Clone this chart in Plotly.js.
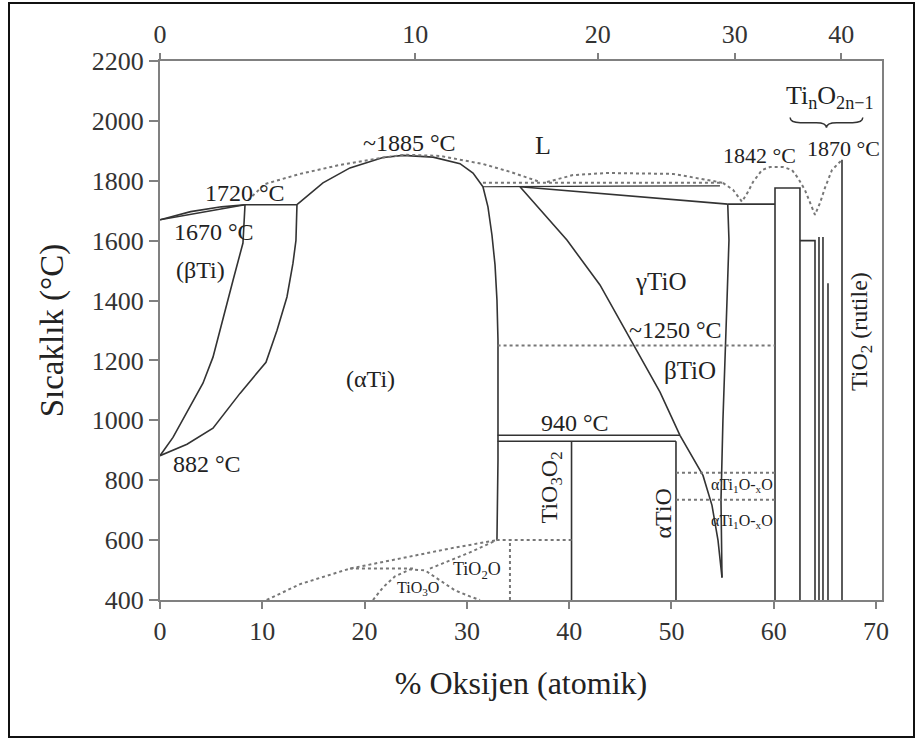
<!DOCTYPE html>
<html><head><meta charset="utf-8">
<script src="https://cdn.plot.ly/plotly-3.0.1.min.js"></script>
<style>
html,body{margin:0;padding:0;background:#fff;}
#wrap{position:relative;width:924px;height:740px;}
#chart{width:924px;height:740px;}
#frame{position:absolute;left:8px;top:2px;width:903px;height:732px;border:2px solid #111;pointer-events:none;}
</style>
</head><body>
<div id="wrap"><div id="chart"></div><div id="frame"></div></div>
<script>
// ---- data: x = atomic % O, T = temperature (°C) ----
const xTicks = [0, 10, 20, 30, 40, 50, 60, 70];
const yTicks = [400, 600, 800, 1000, 1200, 1400, 1600, 1800, 2000, 2200];
const wtTicks = [0, 10, 20, 30, 40];           // top axis, weight % O

const betaLiqX = [0, 3, 6, 8.3];
const betaLiqT = [1670, 1697, 1713, 1720];
const betaSolX = [0, 8.3];
const betaSolT = [1670, 1720];
const betaTransusX = [8.31, 8.11, 7.14, 6.16, 5.18, 4.20, 2.93, 1.27, 0];
const betaTransusT = [1720, 1592, 1468, 1335, 1211, 1124, 1044, 943, 882];
const alphaTransusX = [13.39, 13.29, 13.0, 12.41, 11.44, 10.36, 7.82, 5.18, 2.64, 0];
const alphaTransusT = [1720, 1601, 1525, 1412, 1301, 1194, 1090, 974, 920, 882];
const peri1720X = [8.31, 13.39];
const peri1720T = [1720, 1720];
const alphaSolidusX = [13.39, 15.93, 18.57, 21.80, 23.75, 26.69, 29.33, 30.60, 31.57];
const alphaSolidusT = [1720, 1793, 1843, 1878, 1885, 1879, 1857, 1826, 1780];
const alphaLiquidusX = [8.6, 10.26, 13.69, 17.60, 21.51, 23.95, 27.37, 31.57, 34.21, 37.15];
const alphaLiquidusT = [1735, 1789, 1823, 1853, 1876, 1887, 1883, 1856, 1830, 1796];
const alphaBoundX = [31.57, 32.06, 32.45, 32.75, 32.94, 33.04, 33.04, 33.04, 32.94];
const alphaBoundT = [1780, 1713, 1619, 1519, 1402, 1268, 1067, 866, 600];
const peri1780X = [31.57, 35.19, 45.0, 54.74];
const peri1780T = [1780, 1780, 1782, 1783];
const gammaSolidusX = [35.19, 55.5];
const gammaSolidusT = [1780, 1722];
const gammaLeftX = [35.19, 39.78, 43.01, 46.24, 48.88, 50.83, 53.08, 53.96, 54.55, 54.94];
const gammaLeftT = [1780, 1602, 1452, 1257, 1094, 950, 816, 716, 599, 475];
const gammaRightX = [55.5, 55.62, 55.43, 55.23, 55.03, 54.84, 54.94];
const gammaRightT = [1722, 1602, 1402, 1201, 1000, 733, 475];
const eut1720X = [55.5, 60.12];
const eut1720T = [1722, 1722];
const line950X = [33.0, 50.83];
const line950T = [950, 950];
const line930X = [33.0, 50.44];
const line930T = [930, 930];
const ti3o2X = [40.23, 40.23];
const ti3o2T = [400, 930];
const alphaTiOX = [50.44, 50.44];
const alphaTiOT = [400, 930];
const ti2o3X = [60.12, 60.12, 62.56, 62.56];
const ti2o3T = [400, 1776, 1776, 400];
const ti3o5X = [62.56, 64.03, 64.03];
const ti3o5T = [1600, 1600, 400];
const magneliX = [64.42, 64.81, 65.30];
const magneliTop = [1612, 1612, 1458];
const rutileX = [66.67, 66.67];
const rutileT = [400, 1870];

// dotted lines
const dot1250X = [33.0, 60.12];
const dot1250T = [1250, 1250];
const dot825X = [50.44, 60.12];
const dot825T = [825, 825];
const dot735X = [50.44, 60.12];
const dot735T = [735, 735];
const dot1793X = [31.57, 55.03];
const dot1793T = [1793, 1793];
const arcX = [37.83, 40.37, 43.70, 50.15, 53.47, 55.03];
const arcT = [1796, 1819, 1826, 1823, 1803, 1793];
const liqRightX = [55.03, 56.01, 56.89, 57.48, 57.97, 58.85, 59.63, 60.90, 61.78, 62.37, 63.05, 63.54, 64.03, 64.52, 65.00, 65.69, 66.28, 66.67];
const liqRightT = [1793, 1770, 1730, 1763, 1796, 1836, 1846, 1846, 1836, 1809, 1769, 1726, 1686, 1726, 1776, 1836, 1855, 1870];
const orderX = [10.43, 13.69, 18.57, 23.46, 28.35, 32.91];
const orderT = [400, 453, 505, 538, 572, 600];
const dot505X = [18.57, 24.8];
const dot505T = [505, 505];
const ti3oX = [20.82, 21.80, 22.97, 24.44, 25.90, 27.37, 28.84, 30.30, 31.28];
const ti3oT = [400, 442, 479, 502, 499, 465, 432, 412, 400];
const ti2oX = [26.39, 28.35, 30.30, 32.91];
const ti2oT = [505, 532, 559, 600];
const dot600X = [32.91, 40.23];
const dot600T = [600, 600];
const ti2oVX = [34.21, 34.21];
const ti2oVT = [400, 600];

// brace over the Magneli phases
const braceX = [61.6, 68.7];
const braceT = [2011, 1977];

// labels: [text, x, T, size, angle]
const labels = [
  ['~1885 °C', 24.4, 1927, 24, 0],
  ['L', 37.44, 1917, 26, 0],
  ['1720 °C', 8.31, 1760, 24, 0],
  ['1670 °C', 5.28, 1629, 24, 0],
  ['(βTi)', 3.91, 1502, 24, 0],
  ['(αTi)', 20.53, 1137, 24, 0],
  ['882 °C', 4.59, 853, 24, 0],
  ['1842 °C', 58.65, 1883, 22, 0],
  ['1870 °C', 66.86, 1907, 22, 0],
  ['Ti<sub>n</sub>O<sub>2n−1</sub>', 65.49, 2080, 26, 0],
  ['γTiO', 48.88, 1465, 25, 0],
  ['~1250 °C', 50.44, 1301, 24, 0],
  ['βTiO', 51.81, 1167, 25, 0],
  ['940 °C', 40.57, 990, 24, 0],
  ['TiO<sub>3</sub>O<sub>2</sub>', 38.22, 776, 24, -90],
  ['αTiO', 49.17, 689, 24, -90],
  ['αTi<sub>1</sub>O-<sub>x</sub>O', 56.89, 783, 16, 0],
  ['αTi<sub>1</sub>O-<sub>x</sub>O', 56.89, 663, 16, 0],
  ['TiO<sub>2</sub>O', 30.99, 499, 18, 0],
  ['TiO<sub>3</sub>O', 25.22, 438, 16, 0],
  ['TiO<sub>2</sub> (rutile)', 68.52, 1298, 24, -90]
];

// ---- build ----
const SERIF = 'Liberation Serif, Times New Roman, serif';
const solidStyle = {color: '#333', width: 1.6};
const dotStyle = {color: '#777', width: 2, dash: 'dot'};
const traces = [];
function add(x, y, style, axis) {
  traces.push({x: x, y: y, mode: 'lines', line: style, hoverinfo: 'skip',
               showlegend: false, xaxis: axis || 'x', yaxis: 'y'});
}
add(betaLiqX, betaLiqT, solidStyle);
add(betaSolX, betaSolT, solidStyle);
add(betaTransusX, betaTransusT, solidStyle);
add(alphaTransusX, alphaTransusT, solidStyle);
add(peri1720X, peri1720T, solidStyle);
add(alphaSolidusX, alphaSolidusT, solidStyle);
add(alphaBoundX, alphaBoundT, solidStyle);
add(peri1780X, peri1780T, {color: '#333', width: 1.2});
add(gammaSolidusX, gammaSolidusT, solidStyle);
add(gammaLeftX, gammaLeftT, solidStyle);
add(gammaRightX, gammaRightT, solidStyle);
add(eut1720X, eut1720T, solidStyle);
add(line950X, line950T, solidStyle);
add(line930X, line930T, solidStyle);
add(ti3o2X, ti3o2T, solidStyle);
add(alphaTiOX, alphaTiOT, solidStyle);
add(ti2o3X, ti2o3T, solidStyle);
add(ti3o5X, ti3o5T, solidStyle);
magneliX.forEach((mx, i) => add([mx, mx], [400, magneliTop[i]], solidStyle));
add(rutileX, rutileT, solidStyle, 'x2');

add(alphaLiquidusX, alphaLiquidusT, dotStyle);
add(dot1250X, dot1250T, dotStyle);
add(dot825X, dot825T, dotStyle);
add(dot735X, dot735T, dotStyle);
add(dot1793X, dot1793T, dotStyle);
add(arcX, arcT, dotStyle);
add(liqRightX, liqRightT, dotStyle);
add(orderX, orderT, dotStyle);
add(dot505X, dot505T, dotStyle);
add(ti3oX, ti3oT, dotStyle);
add(ti2oX, ti2oT, dotStyle);
add(dot600X, dot600T, dotStyle);
add(ti2oVX, ti2oVT, dotStyle);

const MO = 15.999, MTI = 47.867;
function wtToAt(w) { const o = w / MO, t = (100 - w) / MTI; return 100 * o / (o + t); }

const annotations = labels.map(l => ({
  text: l[0], x: l[1], y: l[2], xref: 'x', yref: 'y', showarrow: false,
  xanchor: 'center', yanchor: 'middle', textangle: l[4],
  font: {family: SERIF, size: l[3], color: '#222'}
}));

// brace path
const bx0 = braceX[0], bx1 = braceX[1], bxc = (bx0 + bx1) / 2;
const byT = braceT[0], byB = braceT[1], byM = (byT + byB) / 2, dx = 1.0;
const bracePath = `M${bx0},${byT} Q${bx0},${byM} ${bx0 + dx},${byM} L${bxc - dx},${byM} Q${bxc},${byM} ${bxc},${byB} Q${bxc},${byM} ${bxc + dx},${byM} L${bx1 - dx},${byM} Q${bx1},${byM} ${bx1},${byT}`;

const axisCommon = {
  showgrid: false, zeroline: false, showline: true, linecolor: '#808080', linewidth: 2,
  ticks: 'outside', tickcolor: '#808080', tickwidth: 2,
  tickfont: {family: SERIF, size: 26, color: '#333'}
};

const layout = {
  width: 924, height: 740,
  margin: {l: 160, r: 42, t: 61, b: 140},
  paper_bgcolor: '#fff', plot_bgcolor: '#fff',
  xaxis: Object.assign({}, axisCommon, {
    range: [0, 70.58], tickvals: xTicks, ticklen: 7,
    title: {text: '% Oksijen (atomik)', font: {family: SERIF, size: 32, color: '#222'}, standoff: 26}
  }),
  xaxis2: Object.assign({}, axisCommon, {
    overlaying: 'x', side: 'top', matches: 'x', range: [0, 70.58],
    tickvals: wtTicks.map(wtToAt), ticktext: wtTicks.map(String), ticklen: 6
  }),
  yaxis: Object.assign({}, axisCommon, {
    range: [400, 2200], tickvals: yTicks, ticklen: 9, mirror: true,
    title: {text: 'Sıcaklık (°C)', font: {family: SERIF, size: 33, color: '#222'}, standoff: 18}
  }),
  annotations: annotations,
  shapes: [{type: 'path', xref: 'x', yref: 'y', path: bracePath,
            line: {color: '#333', width: 1.5}}]
};

Plotly.newPlot('chart', traces, layout, {staticPlot: true, displayModeBar: false});
</script>
</body></html>
